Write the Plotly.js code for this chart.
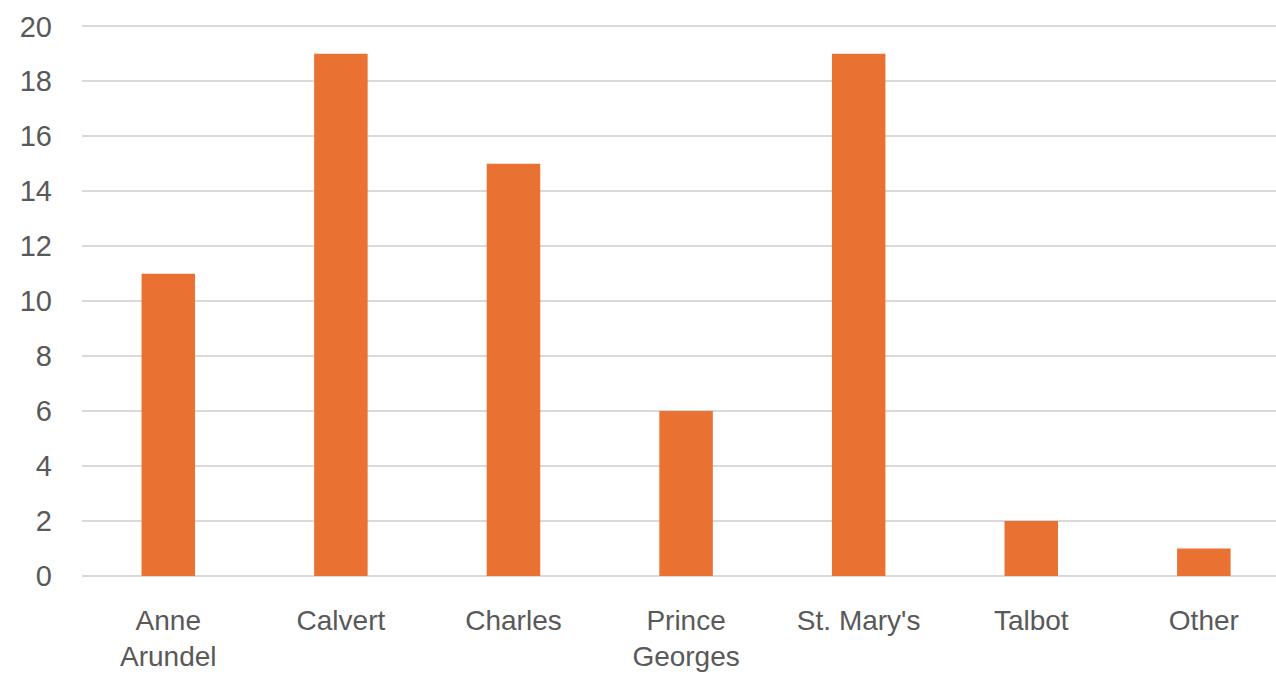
<!DOCTYPE html>
<html>
<head>
<meta charset="utf-8">
<script src="https://cdn.plot.ly/plotly-3.0.1.min.js"></script>
<style>html,body{margin:0;padding:0;background:#fff;}#chart{width:1276px;height:676px;}</style>
</head>
<body>
<div id="chart"></div>
<script>
const categories = ["Anne<br>Arundel", "Calvert", "Charles", "Prince<br>Georges", "St. Mary's", "Talbot", "Other"];
const counts = [11, 19, 15, 6, 19, 2, 1];
const yTicks = [0, 2, 4, 6, 8, 10, 12, 14, 16, 18, 20];

const trace = {
  type: "bar",
  x: categories,
  y: counts,
  marker: {color: "#E97132"},
  width: 0.31,
  hoverinfo: "x+y"
};

const layout = {
  width: 1276,
  height: 676,
  margin: {l: 82, r: 0, t: 25, b: 100},
  paper_bgcolor: "#ffffff",
  plot_bgcolor: "#ffffff",
  showlegend: false,
  font: {family: "Liberation Sans, Arial, sans-serif", color: "#595959", size: 28},
  xaxis: {
    type: "category",
    range: [-0.5, 6.418],
    showgrid: false,
    showline: false,
    zeroline: false,
    ticks: "",
    ticklabelstandoff: 25,
    tickfont: {size: 28, color: "#595959"}
  },
  yaxis: {
    range: [0, 20.05],
    tickvals: yTicks,
    ticktext: yTicks.map(String),
    showgrid: true,
    gridcolor: "#d9d9d9",
    gridwidth: 2,
    zeroline: true,
    zerolinecolor: "#d9d9d9",
    zerolinewidth: 2,
    showline: false,
    ticks: "",
    ticklabelstandoff: 29,
    tickfont: {size: 29, color: "#595959"}
  }
};

Plotly.newPlot("chart", [trace], layout, {displayModeBar: false, staticPlot: true});
</script>
</body>
</html>
